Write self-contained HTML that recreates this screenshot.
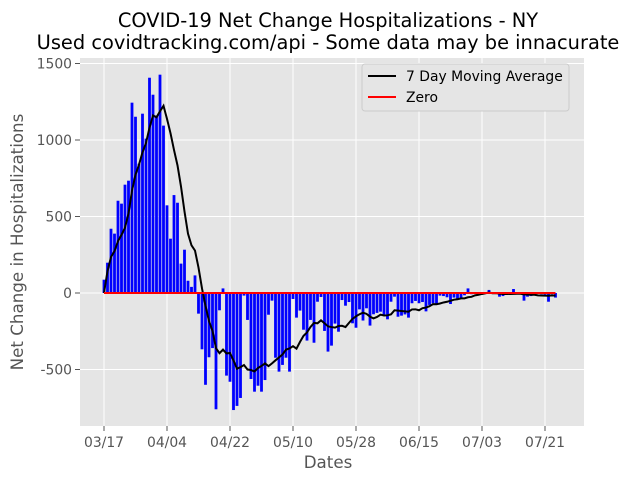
<!DOCTYPE html>
<html><head><meta charset="utf-8"><style>
body{margin:0;background:#fff;font-family:"DejaVu Sans","Liberation Sans",sans-serif}
</style></head><body>
<svg id="chart" width="640" height="480" xmlns="http://www.w3.org/2000/svg" font-family="DejaVu Sans, Liberation Sans, sans-serif">
<text x="328" y="27" font-size="19.4" text-anchor="middle" fill="#000">COVID-19 Net Change Hospitalizations - NY</text>
<text x="328" y="49" font-size="19.4" text-anchor="middle" fill="#000">Used covidtracking.com/api - Some data may be innacurate</text>
<rect x="80" y="58" width="504" height="368" fill="#e5e5e5"/>
<g id="grid"></g><g id="bars"></g><g id="lines"></g><g id="ticks"></g>
<text x="328" y="468" font-size="16.7" text-anchor="middle" fill="#555">Dates</text>
<text transform="translate(23,242) rotate(-90)" font-size="16.7" text-anchor="middle" fill="#555">Net Change in Hospitalizations</text>
<g>
<rect x="362" y="64" width="207" height="47" rx="3" fill="#e5e5e5" stroke="#ccc"/>
<line x1="368" y1="76" x2="396" y2="76" stroke="#000" stroke-width="2"/>
<text x="406" y="81" font-size="13.9" fill="#000">7 Day Moving Average</text>
<line x1="368" y1="97" x2="396" y2="97" stroke="#f00" stroke-width="2"/>
<text x="406" y="102" font-size="13.9" fill="#000">Zero</text>
</g>
</svg>
<script>
const values = [87,198,420,388,603,584,708,734,1244,1152,845,1172,1009,1407,1296,1160,1427,1094,573,355,640,590,192,283,80,40,115,-135,-368,-600,-420,-360,-760,-113,30,
-540,-580,-765,-738,-686,-17,-176,-562,-645,-606,-645,-569,-142,-50,-423,-514,-470,-423,-514,-39,-161,-115,-240,-311,-176,-325,-57,-26,-248,-383,-344,-200,-253,-46,-83,-59,-198,-227,
-107,-180,-100,-213,-139,-130,-122,-145,-172,-57,-24,-155,-148,-140,-161,-67,-52,-67,-59,-120,-78,-67,-72,-17,-20,-28,-72,-30,-45,-35,-15,30,-8,
-5,-3,-8,-4,20,-5,-3,-24,-20,-5,-8,26,-3,-2,-50,-24,-20,-5,-3,-8,-10,-57,-8,-30];
const yTicks = [-500,0,500,1000,1500];
const xTickLabels = ["03/17","04/04","04/22","05/10","05/28","06/15","07/03","07/21"];
const xTickIndex = [0,18,36,54,72,90,108,126];
const NS="http://www.w3.org/2000/svg";
const x = i => 104 + i*3.5;
const y = v => 293 - v*0.153;
function mk(tag,attrs,parent){const e=document.createElementNS(NS,tag);for(const k in attrs)e.setAttribute(k,attrs[k]);document.getElementById(parent).appendChild(e);return e;}
yTicks.forEach(t=>{
  const g=mk('line',{x1:80,x2:584,y1:y(t),y2:y(t),stroke:'#fff','stroke-width':1},'grid');
  
  
  const tm=mk('line',{x1:75,x2:80,y1:y(t),y2:y(t),stroke:'#555','stroke-width':1},'ticks');
  
  
  const tx=mk('text',{x:72,y:y(t)+5,'font-size':13.9,'text-anchor':'end',fill:'#555'},'ticks');
  tx.textContent=t;
  
  
});
xTickIndex.forEach((i,k)=>{
  const g=mk('line',{x1:x(i),x2:x(i),y1:58,y2:426,stroke:'#fff','stroke-width':1},'grid');
  
  
  const tm=mk('line',{x1:x(i),x2:x(i),y1:426,y2:431,stroke:'#555','stroke-width':1},'ticks');
  
  
  const tx=mk('text',{x:x(i),y:447,'font-size':13.9,'text-anchor':'middle',fill:'#555'},'ticks');
  tx.textContent=xTickLabels[k];
  
  
});
values.forEach((v,i)=>{
  const r=mk('rect',{x:x(i)-1.4,width:2.8,y:Math.min(y(v),y(0)),height:Math.abs(y(v)-y(0)),fill:'#0000ff'},'bars');
  
  
});
let pts=[];
values.forEach((v,i)=>{const s=values.slice(Math.max(0,i-6),i+1);const m=i===0?0:s.reduce((a,b)=>a+b,0)/s.length;pts.push(x(i)+','+y(m));});
const ma=mk('polyline',{points:pts.join(' '),fill:'none',stroke:'#000','stroke-width':2},'lines');


const z=mk('line',{x1:x(0),x2:x(values.length-1),y1:y(0),y2:y(0),stroke:'#f00','stroke-width':2},'lines');


</script>
</body></html>
